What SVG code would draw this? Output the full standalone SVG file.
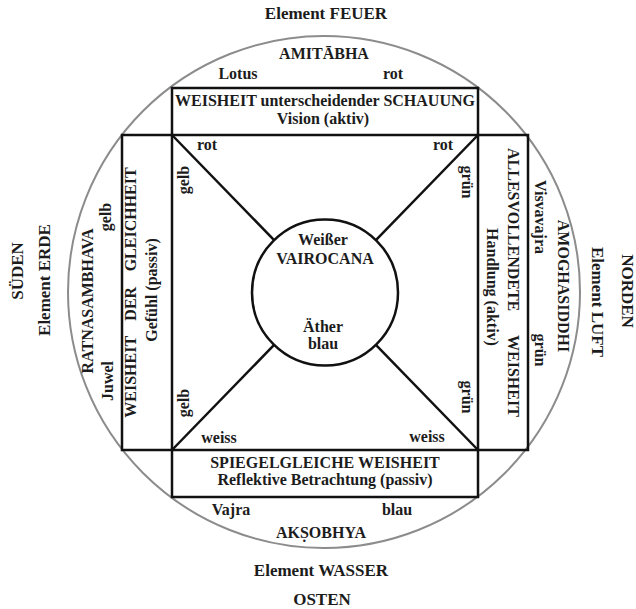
<svg xmlns="http://www.w3.org/2000/svg" width="636" height="609" viewBox="0 0 636 609">
<style>
text{font-family:"Liberation Serif","DejaVu Serif",serif;font-weight:bold;font-size:16px;fill:#1c1c1c;text-anchor:middle}
.big{font-size:17px}
.box{fill:none;stroke:#111;stroke-width:2.5}
.con{stroke:#111;stroke-width:2.5;fill:none}
.outer{fill:none;stroke:#8c8c8c;stroke-width:2}
</style>
<rect width="636" height="609" fill="#fff"/>
<g id="outer-circle">
<circle class="outer" cx="324" cy="292" r="256"/>
</g>
<g id="compass">
<text class="big" x="326" y="19">Element FEUER</text>
<text class="big" x="321" y="576">Element WASSER</text>
<text class="big" x="322" y="605">OSTEN</text>
<text class="big" transform="translate(23,271) rotate(-90)">SÜDEN</text>
<text class="big" transform="translate(50,280) rotate(-90)">Element ERDE</text>
<text class="big" transform="translate(592,302) rotate(90)">Element LUFT</text>
<text class="big" transform="translate(622,291) rotate(90)">NORDEN</text>
</g>
<g id="top-box">
<rect class="box" x="172" y="88" width="306" height="47"/>
<text x="325" y="106">WEISHEIT unterscheidender SCHAUUNG</text>
<text x="323" y="124">Vision (aktiv)</text>
<text x="324" y="59">AMITĀBHA</text>
<text x="238" y="79">Lotus</text>
<text x="393" y="79">rot</text>
</g>
<g id="bottom-box">
<rect class="box" x="172" y="450" width="306" height="47"/>
<text x="325" y="468">SPIEGELGLEICHE WEISHEIT</text>
<text x="325" y="485">Reflektive Betrachtung (passiv)</text>
<text x="231" y="515">Vajra</text>
<text x="397" y="515">blau</text>
<text x="321" y="538">AKṢOBHYA</text>
</g>
<g id="left-box">
<rect class="box" x="122" y="135" width="50" height="315"/>
<text transform="translate(136,292.5) rotate(-90)" word-spacing="11.5">WEISHEIT DER GLEICHHEIT</text>
<text transform="translate(157,290) rotate(-90)">Gefühl (passiv)</text>
<text transform="translate(93,301) rotate(-90)">RATNASAMBHAVA</text>
<text transform="translate(111,217) rotate(-90)">gelb</text>
<text transform="translate(113,381) rotate(-90)">Juwel</text>
</g>
<g id="right-box">
<rect class="box" x="478" y="135" width="50" height="315"/>
<text transform="translate(508,148) rotate(90)" style="text-anchor:start" word-spacing="20">ALLESVOLLENDETE WEISHEIT</text>
<text transform="translate(487,287) rotate(90)">Handlung (aktiv)</text>
<text transform="translate(535,217) rotate(90)">Visvavajra</text>
<text transform="translate(558,286) rotate(90)">AMOGHASIDDHI</text>
<text transform="translate(535,350) rotate(90)">grün</text>
</g>
<g id="center">
<circle class="box" cx="325" cy="292.5" r="73"/>
<text x="323" y="245">Weißer</text>
<text x="325" y="264">VAIROCANA</text>
<text x="323" y="332">Äther</text>
<text x="323" y="349">blau</text>
</g>
<g id="connectors">
<line class="con" x1="172" y1="135" x2="274.1" y2="240.1"/>
<line class="con" x1="478" y1="135" x2="375.9" y2="240.1"/>
<line class="con" x1="172" y1="450" x2="274.1" y2="344.9"/>
<line class="con" x1="478" y1="450" x2="375.9" y2="344.9"/>
</g>
<g id="corner-labels">
<text x="207" y="150">rot</text>
<text x="443" y="150">rot</text>
<text transform="translate(189,180) rotate(-90)">gelb</text>
<text transform="translate(189,403) rotate(-90)">gelb</text>
<text transform="translate(462,182) rotate(90)">grün</text>
<text transform="translate(462,397) rotate(90)">grün</text>
<text x="219" y="443">weiss</text>
<text x="427" y="442">weiss</text>
</g>
</svg>
